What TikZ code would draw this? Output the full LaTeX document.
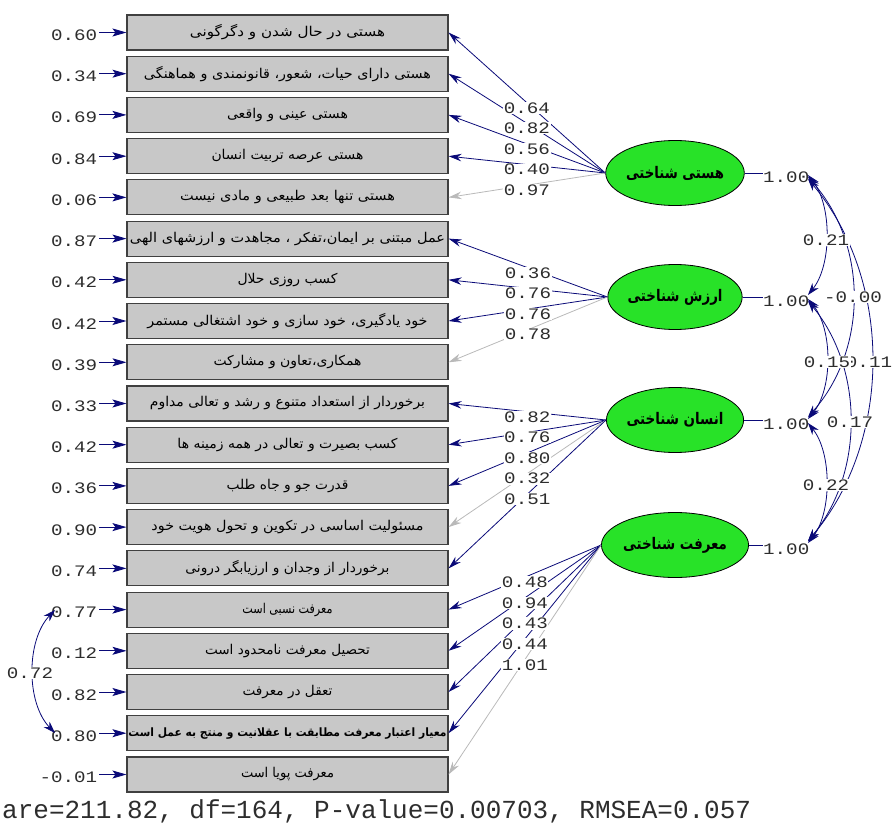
\documentclass[tikz,border=0pt]{standalone}
\usepackage{fontspec}
\usepackage{graphicx}
\usetikzlibrary{shapes.geometric,arrows.meta,calc}
\TeXXeTstate=1
\newfontfamily\arabicfont[Script=Arabic]{DejaVu Sans}
\newfontfamily\numfont[FakeStretch=1.2]{Liberation Mono}
\newfontfamily\fitfont{Liberation Mono}
\definecolor{navy}{RGB}{10,10,120}
\definecolor{lgray}{RGB}{185,185,185}
\definecolor{boxgray}{RGB}{200,200,200}
\definecolor{latgreen}{RGB}{40,226,40}
\definecolor{txt}{RGB}{45,45,45}
% #1 = width, #2 = text (already wrapped in \beginR ... \endR)
\newcommand\fa[2]{\resizebox{#1pt}{\height}{\arabicfont\fontsize{13.5}{15}\selectfont #2}}
\newcommand\fab[2]{\resizebox{#1pt}{\height}{\arabicfont\bfseries\fontsize{11.5}{13}\selectfont #2}}
\newcommand\fal[2]{\resizebox{#1pt}{\height}{\arabicfont\bfseries\fontsize{16}{18}\selectfont #2}}
\begin{document}
\begin{tikzpicture}[x=1pt,y=-1pt,
  ind/.style={draw=black!75, line width=1.1pt, fill=boxgray, minimum width=321pt, minimum height=35pt, inner sep=0pt},
  lat/.style={ellipse, draw=black, line width=0.8pt, fill=latgreen, minimum width=116pt, minimum height=65pt, inner sep=0pt},
  num/.style={font=\numfont\fontsize{16}{16}\selectfont, text=txt, inner sep=1pt},
  lab/.style={num, fill=white, inner sep=0.6pt},
  load/.style={draw=navy, line width=0.8pt, -{Stealth[length=13pt,width=7.5pt]}},
  nsload/.style={load, draw=lgray},
  err/.style={draw=navy, line width=0.9pt, -{Stealth[length=14pt,width=8pt,inset=3pt]}},
  cov/.style={draw=navy, line width=0.8pt, {Stealth[length=12pt,width=8pt]}-{Stealth[length=12pt,width=8pt]}},
  varline/.style={draw=navy, line width=0.8pt}]
\useasboundingbox (0,0) rectangle (894,826);

% indicators
\node[ind] (b1)  at (287.5,32.5)  {\fa{195}{\beginR هستی در حال شدن و دگرگونی\endR}};
\node[ind] (b2)  at (287.5,73.7)  {\fa{287}{\beginR هستی دارای حیات، شعور، قانونمندی و هماهنگی\endR}};
\node[ind] (b3)  at (287.5,114.9) {\fa{121}{\beginR هستی عینی و واقعی\endR}};
\node[ind] (b4)  at (287.5,156.2) {\fa{152}{\beginR هستی عرصه تربیت انسان\endR}};
\node[ind] (b5)  at (287.5,197.4) {\fa{215}{\beginR هستی تنها بعد طبیعی و مادی نیست\endR}};
\node[ind] (b6)  at (287.5,238.6) {\fa{315}{\beginR عمل مبتنی بر ایمان،تفکر ، مجاهدت و ارزشهای الهی\endR}};
\node[ind] (b7)  at (287.5,279.8) {\fa{100}{\beginR کسب روزی حلال\endR}};
\node[ind] (b8)  at (287.5,321.0) {\fa{280}{\beginR خود یادگیری، خود سازی و خود اشتغالی مستمر\endR}};
\node[ind] (b9)  at (287.5,362.3) {\fa{148}{\beginR همکاری،تعاون و مشارکت\endR}};
\node[ind] (b10) at (287.5,403.5) {\fa{275}{\beginR برخوردار از استعداد متنوع و رشد و تعالی مداوم\endR}};
\node[ind] (b11) at (287.5,444.7) {\fa{220}{\beginR کسب بصیرت و تعالی در همه زمینه ها\endR}};
\node[ind] (b12) at (287.5,485.9) {\fa{122}{\beginR قدرت جو و جاه طلب\endR}};
\node[ind] (b13) at (287.5,527.1) {\fa{272}{\beginR مسئولیت اساسی در تکوین و تحول هویت خود\endR}};
\node[ind] (b14) at (287.5,568.4) {\fa{204}{\beginR برخوردار از وجدان و ارزیابگر درونی\endR}};
\node[ind] (b15) at (287.5,609.6) {\fa{90}{\beginR معرفت نسبی است\endR}};
\node[ind] (b16) at (287.5,650.8) {\fa{165}{\beginR تحصیل معرفت نامحدود است\endR}};
\node[ind] (b17) at (287.5,692.0) {\fa{90}{\beginR تعقل در معرفت\endR}};
\node[ind] (b18) at (287.5,733.2) {\fab{318}{\beginR معیار اعتبار معرفت مطابقت با عقلانیت و منتج به عمل است\endR}};
\node[ind] (b19) at (287.5,774.5) {\fa{93}{\beginR معرفت پویا است\endR}};

% error variances
\foreach \i/\v in {1/0.60,2/0.34,3/0.69,4/0.84,5/0.06,6/0.87,7/0.42,8/0.42,9/0.39,10/0.33,11/0.42,12/0.36,13/0.90,14/0.74,15/0.77,16/0.12,17/0.82,18/0.80,19/-0.01}{
  \node[num, anchor=base east, inner sep=0pt] (e\i) at ($(b\i.west)+(-29,8)$) {\v};
  \draw[err] ($(b\i.west)+(-27,0)$) -- (b\i.west);
}

% latent variables
\node[lat] (f1) at (675,173) {\fal{98}{\beginR هستی شناختی\endR}};
\node[lat] (f2) at (675,297) {\fal{95}{\beginR ارزش شناختی\endR}};
\node[lat] (f3) at (675,420) {\fal{97}{\beginR انسان شناختی\endR}};
\node[lat] (f4) at (675,545) {\fal{104}{\beginR معرفت شناختی\endR}};

% variances
\foreach \f in {1,2,3,4}{
  \node[num, anchor=west, inner sep=0pt] (v\f) at ($(f\f.center)+(88,4)$) {1.00};
  \draw[varline] (f\f.east) -- (f\f.east -| v\f.west);
}

% loadings
\foreach \f/\b/\s in {1/1/load,1/2/load,1/3/load,1/4/load,1/5/nsload,
                      2/6/load,2/7/load,2/8/load,2/9/nsload,
                      3/10/load,3/11/load,3/12/load,3/13/nsload,3/14/load,
                      4/15/load,4/16/load,4/17/load,4/18/load,4/19/nsload}{
  \draw[\s] (f\f.west) -- (b\b.east);
}
\foreach \f/\b/\v in {1/1/0.64,1/2/0.82,1/3/0.56,1/4/0.40,1/5/0.97,
                      2/6/0.36,2/7/0.76,2/8/0.76,2/9/0.78,
                      3/10/0.82,3/11/0.76,3/12/0.80,3/13/0.32,3/14/0.51,
                      4/15/0.48,4/16/0.94,4/17/0.43,4/18/0.44,4/19/1.01}{
  \node[lab] (l\b) at ($(f\f.west)!0.5!(b\b.east)+(0,5)$) {\v};
}

% factor correlations
\coordinate (t1a) at (808,175); \coordinate (t1b) at (808,177); \coordinate (t1c) at (808,179);
\coordinate (t2a) at (808,295); \coordinate (t2b) at (808,299); \coordinate (t2c) at (808,301);
\coordinate (t3a) at (808,417); \coordinate (t3b) at (808,419); \coordinate (t3c) at (808,423);
\coordinate (t4a) at (808,541); \coordinate (t4b) at (808,543);
\draw[cov] (t1a) .. controls (832,205) and (832,265) .. (t2a);
\draw[cov] (t1b) .. controls (868,245) and (868,349) .. (t3a);
\draw[cov] (t1c) .. controls (893,280) and (893,440) .. (t4a);
\draw[cov] (t2b) .. controls (833,329) and (833,389) .. (t3b);
\draw[cov] (t2c) .. controls (864,369) and (864,473) .. (t4a);
\draw[cov] (t3c) .. controls (832,453) and (832,513) .. (t4b);
\node[lab] (c12) at (826,240) {0.21};
\node[lab] (c13) at (853,297) {-0.00};
\node[lab] (c14) at (869,362) {0.11};
\node[lab] (c23) at (827,362) {0.15};
\node[lab] (c24) at (850,422) {0.17};
\node[lab] (c34) at (826,485) {0.22};

% error covariance
\coordinate (u15) at (55,610);
\coordinate (u18) at (55,733);
\draw[cov] (u15) .. controls (26,640) and (26,703) .. (u18);
\node[lab] (c1518) at (30,673) {0.72};

% fit statistics
\node[anchor=base west, inner sep=0pt, text=txt, font=\fitfont\fontsize{26}{26}\selectfont] (fit) at (2,818) {are=211.82, df=164, P-value=0.00703, RMSEA=0.057};
\end{tikzpicture}
\end{document}
